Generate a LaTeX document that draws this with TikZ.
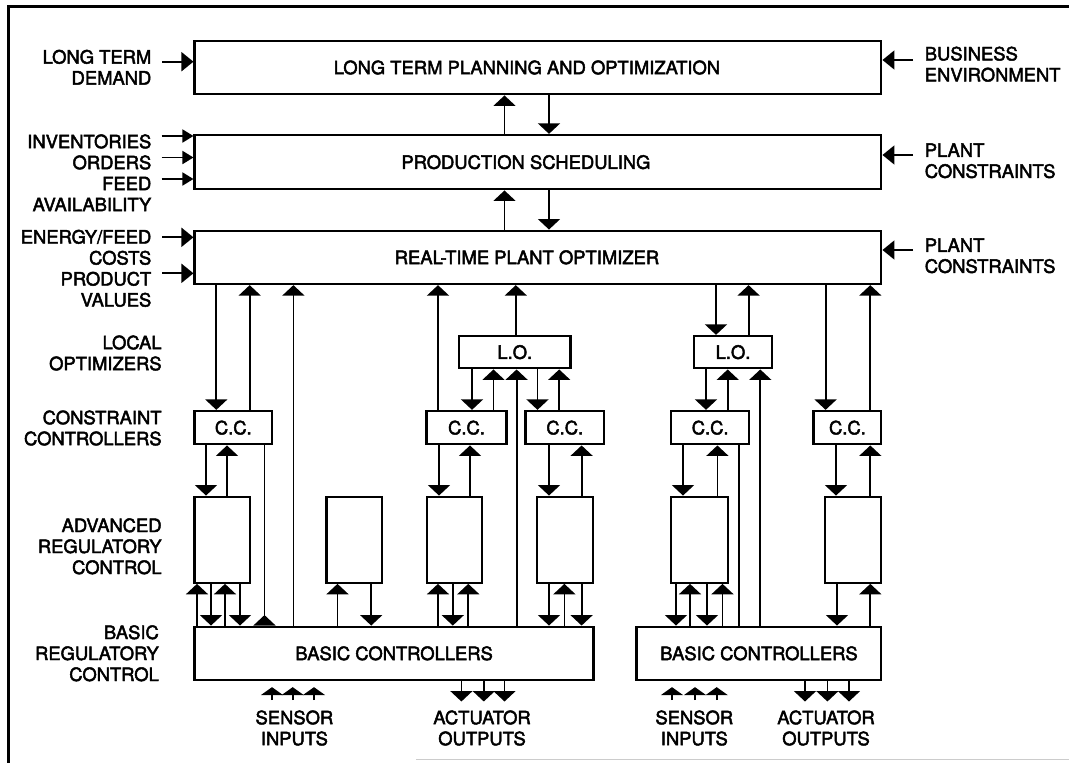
\documentclass[tikz,border=0pt]{standalone}
\usepackage{fontspec}
\setmainfont{TeX Gyre Heros}[BoldFont={TeX Gyre Heros},BoldFeatures={FakeBold=2.5}]
\usetikzlibrary{arrows.meta,calc}
\newcommand\bx[6]{\node[box, minimum width={(#4)-(#2)}, minimum height={(#5)-(#3)}] (#1) at ({((#2)+(#4))/2},{((#3)+(#5))/2}) {#6};}
\newcommand\vl[4]{\draw[#1] (#3 -| #2,0) -- (#4 -| #2,0);}
\begin{document}
\begin{tikzpicture}[x=1pt,y=-1pt,
  font=\fontsize{18.4}{21}\selectfont\bfseries,
  box/.style={draw, line width=2.3pt, inner sep=0pt},
  con/.style={line width=1.8pt},
  arr/.style={con, -{Triangle[length=10.5pt,width=22pt]}},
  sidearr/.style={con, -{Triangle[length=12pt,width=19pt]}},
  sarr/.style={con, -{Triangle[length=11pt,width=13pt]}},
  senarr/.style={con, -{Triangle[length=8pt,width=22pt]}},
  rarr/.style={con, -{Triangle[reversed,length=10.5pt,width=22pt]}},
  lbl/.style={align=right, anchor=east, inner sep=0pt},
  rlbl/.style={align=left, anchor=west, inner sep=0pt},
  clbl/.style={align=center, inner sep=0pt},
  frame/.style={line width=3pt},
]
\useasboundingbox (0,0) rectangle (1069,763);
% frame
\draw[frame] (8.6,763) -- (8.6,6) -- (1069,6);
\draw[gray!40, line width=1pt] (416,759) -- (1069,759);

% main boxes
\bx{ltp}{194.6}{40.7}{881.3}{94.3}{}
\bx{ps}{194.6}{135}{881.3}{189.3}{}
\bx{rtpo}{194.6}{230.7}{881.3}{284}{}
\node[clbl] (ltpt) at ($(ltp.center)+(-11,0)$) {LONG TERM PLANNING AND OPTIMIZATION};
\node[clbl] (pst) at ($(ps.center)+(-12,0)$) {PRODUCTION SCHEDULING};
\node[clbl] (rtpot) at ($(rtpo.center)+(-11,0)$) {REAL-TIME PLANT OPTIMIZER};

\bx{lo1}{459}{336}{570.6}{368.3}{L.O.}
\bx{lo2}{694.3}{336}{771.7}{368.3}{L.O.}
\bx{cc1}{194.6}{411}{272}{444.3}{C.C.}
\bx{cc2}{426.5}{411}{506.5}{444.3}{C.C.}
\bx{cc3}{525.5}{411}{604}{444.3}{C.C.}
\bx{cc4}{671}{411}{749.3}{444.3}{C.C.}
\bx{cc5}{813.6}{411}{881.3}{444.3}{C.C.}
\bx{arc1}{194.6}{496.7}{249.7}{582.7}{}
\bx{arc2}{326.4}{496.7}{382.2}{582.7}{}
\bx{arc3}{427}{496.7}{482}{582.7}{}
\bx{arc4}{537}{496.7}{593}{582.7}{}
\bx{arc5}{671}{496.7}{727.7}{582.7}{}
\bx{arc6}{825}{496.7}{881.3}{582.7}{}
\bx{bc1}{194.6}{626.7}{593.6}{680}{BASIC CONTROLLERS}
\bx{bc2}{636.6}{626.7}{881.3}{680}{BASIC CONTROLLERS}

% between top levels
\vl{arr}{504.5}{ps.north}{ltp.south}
\vl{arr}{549}{ltp.south}{ps.north}
\vl{arr}{504.5}{rtpo.north}{ps.south}
\vl{arr}{549}{ps.south}{rtpo.north}

% from RTPO
\vl{arr}{216.3}{rtpo.south}{cc1.north}
\vl{arr}{249.7}{cc1.north}{rtpo.south}
\vl{arr}{293.4}{bc1.north}{rtpo.south}
\vl{arr}{438}{cc2.north}{rtpo.south}
\vl{arr}{515.8}{lo1.north}{rtpo.south}
\vl{arr}{716}{rtpo.south}{lo2.north}
\vl{arr}{748.6}{lo2.north}{rtpo.south}
\vl{arr}{825.6}{rtpo.south}{cc5.north}
\vl{arr}{870.3}{cc5.north}{rtpo.south}

% from L.O.
\vl{arr}{472}{lo1.south}{cc2.north}
\vl{arr}{493.5}{cc2.north}{lo1.south}
\vl{arr}{516.6}{bc1.north}{lo1.south}
\vl{arr}{537.5}{lo1.south}{cc3.north}
\vl{arr}{559.2}{cc3.north}{lo1.south}
\vl{arr}{706}{lo2.south}{cc4.north}
\vl{arr}{727.7}{cc4.north}{lo2.south}
\vl{arr}{760.3}{bc2.north}{lo2.south}

% from C.C.
\vl{arr}{206}{cc1.south}{arc1.north}
\vl{arr}{227}{arc1.north}{cc1.south}
\vl{rarr}{264.5}{cc1.south}{bc1.north}
\vl{arr}{439}{cc2.south}{arc3.north}
\vl{arr}{470}{arc3.north}{cc2.south}
\vl{arr}{549}{cc3.south}{arc4.north}
\vl{arr}{581.6}{arc4.north}{cc3.south}
\vl{arr}{683}{cc4.south}{arc5.north}
\vl{arr}{717.4}{arc5.north}{cc4.south}
\vl{con}{738.7}{cc4.south}{bc2.north}
\vl{arr}{836}{cc5.south}{arc6.north}
\vl{arr}{870.3}{arc6.north}{cc5.south}

% between advanced and basic
\vl{arr}{197}{bc1.north}{arc1.south}
\vl{arr}{211}{arc1.south}{bc1.north}
\vl{arr}{225}{bc1.north}{arc1.south}
\vl{arr}{240}{arc1.south}{bc1.north}
\vl{arr}{337.5}{bc1.north}{arc2.south}
\vl{arr}{371.2}{arc2.south}{bc1.north}
\vl{arr}{438}{bc1.north}{arc3.south}
\vl{arr}{452.8}{arc3.south}{bc1.north}
\vl{arr}{468.3}{bc1.north}{arc3.south}
\vl{arr}{549}{arc4.south}{bc1.north}
\vl{arr}{564.4}{bc1.north}{arc4.south}
\vl{arr}{581.6}{arc4.south}{bc1.north}
\vl{arr}{676}{arc5.south}{bc2.north}
\vl{arr}{690}{bc2.north}{arc5.south}
\vl{arr}{707}{arc5.south}{bc2.north}
\vl{arr}{722.5}{bc2.north}{arc5.south}
\vl{arr}{837}{arc6.south}{bc2.north}
\vl{arr}{870.3}{bc2.north}{arc6.south}

% side inputs
\coordinate (iltd) at (162,61.7);
\coordinate (iinv) at (161.7,136);
\coordinate (iord) at (161.7,157.5);
\coordinate (ifeed) at (161.7,179);
\coordinate (iene) at (162,237.3);
\coordinate (iprod) at (162,273.3);
\coordinate (ibus) at (913,60);
\coordinate (ipc1) at (913,155);
\coordinate (ipc2) at (913,250);
\draw[sidearr] (iltd) -- (iltd -| ltp.west);
\draw[sarr] (iinv) -- (iinv -| ps.west);
\draw[sarr] (iord) -- (iord -| ps.west);
\draw[sarr] (ifeed) -- (ifeed -| ps.west);
\draw[sidearr] (iene) -- (iene -| rtpo.west);
\draw[sidearr] (iprod) -- (iprod -| rtpo.west);
\draw[sidearr] (ibus) -- (ibus -| ltp.east);
\draw[sidearr] (ipc1) -- (ipc1 -| ps.east);
\draw[sidearr] (ipc2) -- (ipc2 -| rtpo.east);

% sensor inputs and actuator outputs
\foreach \n/\x/\b in {s1/272/bc1, s2/292.7/bc1, s3/314/bc1, s4/672/bc2, s5/695/bc2, s6/716.7/bc2}{
  \coordinate (\n) at (\x,700);
  \draw[senarr, shorten >=6pt] (\n) -- (\n |- \b.south);
}
\foreach \n/\x/\b in {a1/461.4/bc1, a2/483.8/bc1, a3/504.5/bc1, a4/805/bc2, a5/827.4/bc2, a6/849/bc2}{
  \coordinate (\n) at (\x,701.5);
  \draw[arr] (\n |- \b.south) -- (\n);
}

% labels
\node[lbl] (l1) at (151.5,67.2) {LONG TERM\\DEMAND};
\node[lbl] (l2) at (151.5,172.8) {INVENTORIES\\ORDERS\\FEED\\AVAILABILITY};
\node[lbl] (l3) at (151.5,268.3) {ENERGY/FEED\\COSTS\\PRODUCT\\VALUES};
\node[lbl] (l4) at (161.8,353) {LOCAL\\OPTIMIZERS};
\node[lbl] (l5) at (161.8,428) {CONSTRAINT\\CONTROLLERS};
\node[lbl] (l6) at (161.8,546.3) {ADVANCED\\REGULATORY\\CONTROL};
\node[lbl] (l7) at (159,653.3) {BASIC\\REGULATORY\\CONTROL};
\node[rlbl] (r1) at (924.6,64.2) {BUSINESS\\ENVIRONMENT};
\node[rlbl] (r2) at (924.6,160.8) {PLANT\\CONSTRAINTS};
\node[rlbl] (r3) at (924.6,255.8) {PLANT\\CONSTRAINTS};
\node[clbl] (b1) at (294.4,728) {SENSOR\\INPUTS};
\node[clbl] (b2) at (482,728) {ACTUATOR\\OUTPUTS};
\node[clbl] (b3) at (694.3,728) {SENSOR\\INPUTS};
\node[clbl] (b4) at (826,728) {ACTUATOR\\OUTPUTS};
\end{tikzpicture}
\end{document}
